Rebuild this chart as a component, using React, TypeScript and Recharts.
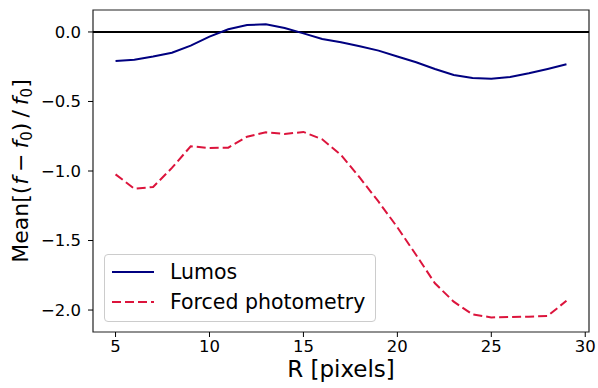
import React from "react";
import {
  LineChart,
  Line,
  XAxis,
  YAxis,
  ReferenceLine,
  ReferenceArea,
  Legend,
} from "recharts";

const radii = [5, 6, 7, 8, 9, 10, 11, 12, 13, 14, 15, 16, 17, 18, 19, 20, 21, 22, 23, 24, 25, 26, 27, 28, 29];
const lumos = [
  -0.209, -0.199, -0.177, -0.149, -0.098, -0.034, 0.019, 0.05, 0.055, 0.029, -0.01, -0.05, -0.074,
  -0.103, -0.134, -0.177, -0.218, -0.266, -0.309, -0.331, -0.336, -0.324, -0.297, -0.266, -0.232,
];
const forced = [
  -1.024, -1.127, -1.115, -0.978, -0.822, -0.835, -0.832, -0.753, -0.722, -0.734, -0.719, -0.772, -0.885,
  -1.048, -1.221, -1.405, -1.604, -1.808, -1.94, -2.031, -2.053, -2.05, -2.048, -2.043, -1.933,
];
const seriesNames = ["Lumos", "Forced photometry"];
const xTicks = [5, 10, 15, 20, 25, 30];
const yTicks = [-2, -1.5, -1, -0.5, 0];

const data = radii.map((r, i) => ({ r, lumos: lumos[i], forced: forced[i] }));

const FONT = "DejaVu Sans, sans-serif";
const X_DOMAIN = [3.8, 30.2];
const Y_DOMAIN = [-2.158, 0.158];

const fmt = (v: number) => {
  const s = v.toFixed(1);
  return s.startsWith("-") ? "\u2212" + s.slice(1) : s;
};

function LegendBox({ payload }: any) {
  const items = [...(payload || [])].sort(
    (a: any, b: any) => seriesNames.indexOf(a.value) - seriesNames.indexOf(b.value)
  );
  return (
    <div
      style={{
        border: "1px solid #cccccc",
        borderRadius: 4,
        background: "rgba(255,255,255,0.8)",
        width: 272,
        height: 68,
        boxSizing: "border-box",
        paddingTop: 2,
        fontFamily: FONT,
        fontSize: 20.5,
        color: "#000",
      }}
    >
      {items.map((p: any) => (
        <div key={p.value} style={{ display: "flex", alignItems: "center", height: 30 }}>
          <svg width={59} height={10} style={{ marginLeft: 6 }}>
            <line
              x1={1}
              x2={43}
              y1={5}
              y2={5}
              stroke={p.color}
              strokeWidth={2}
              strokeDasharray={p.payload?.strokeDasharray}
            />
          </svg>
          <span>{p.value}</span>
        </div>
      ))}
    </div>
  );
}

export default function App() {
  return (
    <div style={{ position: "absolute", left: 0, top: 0, background: "#fff" }}>
      <LineChart width={598} height={388} data={data} margin={{ top: 10, right: 9, left: 0, bottom: 0 }}>
        <XAxis
          dataKey="r"
          type="number"
          domain={X_DOMAIN}
          ticks={xTicks}
          allowDataOverflow
          height={56}
          tickSize={5}
          tickMargin={3}
          axisLine={false}
          tickLine={{ stroke: "#000" }}
          tick={{ fontFamily: FONT, fontSize: 16.5, fill: "#000" }}
          label={{
            content: ({ viewBox }: any) => (
              <text
                x={viewBox.x + viewBox.width / 2}
                y={377}
                textAnchor="middle"
                fontFamily={FONT}
                fontSize={23}
                fill="#000"
              >
                R [pixels]
              </text>
            ),
          }}
        />
        <YAxis
          type="number"
          domain={Y_DOMAIN}
          ticks={yTicks}
          allowDataOverflow
          width={93}
          tickSize={5}
          tickMargin={7}
          axisLine={false}
          tickLine={{ stroke: "#000" }}
          tickFormatter={fmt}
          tick={{ fontFamily: FONT, fontSize: 16.5, fill: "#000" }}
          label={{
            content: () => (
              <text
                transform="translate(28,171) rotate(-90)"
                textAnchor="middle"
                fontFamily={FONT}
                fontSize={22}
                fill="#000"
              >
                Mean[(<tspan fontStyle="italic" dx={1}>f</tspan>
                <tspan dx={5}>−</tspan>
                <tspan fontStyle="italic" dx={5}>f</tspan>
                <tspan fontSize={15} dy={4}>0</tspan>
                <tspan dy={-4}>)</tspan>
                <tspan dx={5}>/</tspan>
                <tspan fontStyle="italic" dx={5}>f</tspan>
                <tspan fontSize={15} dy={4}>0</tspan>
                <tspan dy={-4}>]</tspan>
              </text>
            ),
          }}
        />
        <ReferenceLine y={0} stroke="#000" strokeWidth={2} />
        <Line
          type="linear"
          dataKey="lumos"
          name="Lumos"
          stroke="#000080"
          strokeWidth={2}
          dot={false}
          isAnimationActive={false}
        />
        <Line
          type="linear"
          dataKey="forced"
          name="Forced photometry"
          stroke="#DC143C"
          strokeWidth={2}
          strokeDasharray="9 4"
          dot={false}
          isAnimationActive={false}
        />
        <ReferenceArea
          x1={X_DOMAIN[0]}
          x2={X_DOMAIN[1]}
          y1={Y_DOMAIN[0]}
          y2={Y_DOMAIN[1]}
          fill="none"
          stroke="#222"
          strokeWidth={1.2}
        />
        <Legend
          layout="vertical"
          align="center"
          verticalAlign="middle"
          content={<LegendBox />}
          wrapperStyle={{ position: "absolute", left: 104, top: 254, width: 272, height: 68, bottom: "auto" }}
        />
      </LineChart>
    </div>
  );
}
